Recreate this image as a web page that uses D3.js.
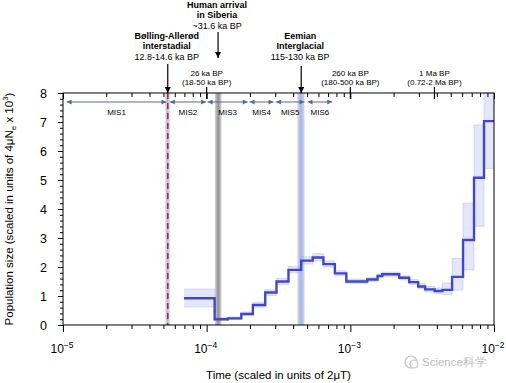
<!DOCTYPE html>
<html>
<head>
<meta charset="utf-8">
<script src="https://cdn.jsdelivr.net/npm/d3@7"></script>
<style>
  body { margin: 0; background: #fff; }
  svg { display: block; font-family: "Liberation Sans", Arial, sans-serif; }
  .axis path, .axis line { stroke: #000; stroke-width: 1; }
</style>
</head>
<body>
<div id="chart"></div>
<script>
(function () {
  "use strict";

  // Step breakpoints (time, scaled units of 2uT) and population sizes (x 10^3)
  const stepTimes  = [6.96e-5, 1.136e-4, 1.406e-4, 1.742e-4, 2.097e-4, 2.557e-4, 3.062e-4, 3.71e-4,
                      4.546e-4, 5.472e-4, 6.494e-4, 7.806e-4, 9.38e-4, 1.312e-3, 1.547e-3, 1.668e-3,
                      2.189e-3, 2.569e-3, 2.966e-3, 3.317e-3, 3.862e-3, 4.375e-3, 5.108e-3, 6.09e-3,
                      7.26e-3, 8.52e-3];
  const stepValues = [0.92, 0.20, 0.23, 0.38, 0.69, 1.12, 1.50, 1.90,
                      2.22, 2.33, 2.10, 1.78, 1.50, 1.57, 1.69, 1.75,
                      1.63, 1.48, 1.33, 1.23, 1.17, 1.21, 1.66, 2.93,
                      5.08, 7.03];
  // bootstrap spread (lower / upper)
  const bootLo = [0.62, 0.16, 0.19, 0.32, 0.61, 1.02, 1.40, 1.80,
                  2.10, 2.21, 2.00, 1.70, 1.43, 1.50, 1.62, 1.68,
                  1.56, 1.40, 1.25, 1.14, 1.07, 1.05, 1.20, 1.90,
                  3.40, 5.40];
  const bootHi = [1.24, 0.25, 0.28, 0.45, 0.78, 1.22, 1.61, 2.02,
                  2.35, 2.46, 2.21, 1.87, 1.58, 1.64, 1.76, 1.82,
                  1.70, 1.57, 1.42, 1.33, 1.28, 1.45, 2.30, 4.20,
                  6.90, 8.00];
  const endTime = 1e-2;

  // Events
  const baTime = 5.36e-5, baBand = [5.14e-5, 5.55e-5];
  const humanTime = 1.2e-4, humanBand = [1.14e-4, 1.27e-4];
  const eemTime = 4.55e-4, eemBand = [4.28e-4, 4.8e-4];

  // Marine isotope stages
  const misNames = ["MIS1", "MIS2", "MIS3", "MIS4", "MIS5", "MIS6"];
  const misStart = [1.06e-5, 5.54e-5, 1.015e-4, 1.99e-4, 3.04e-4, 5.04e-4];
  const misEnd   = [5.25e-5, 9.9e-5, 1.93e-4, 2.92e-4, 4.79e-4, 7.48e-4];

  // Top time ticks
  const topTickTimes = [1e-4, 1e-3, 3.85e-3];
  const topTickLine1 = ["26 ka BP", "260 ka BP", "1 Ma BP"];
  const topTickLine2 = ["(18-50 ka BP)", "(180-500 ka BP)", "(0.72-2 Ma BP)"];

  const decades = [1e-5, 1e-4, 1e-3, 1e-2];
  const yTicks = [0, 1, 2, 3, 4, 5, 6, 7, 8];

  // Layout
  const W = 506, H = 383;
  const x0 = 63, x1 = 494, yTop = 93, yBot = 325;

  const x = d3.scaleLog().domain([1e-5, 1e-2]).range([x0, x1]);
  const y = d3.scaleLinear().domain([0, 8]).range([yBot, yTop]);

  const svg = d3.select("#chart").append("svg")
    .attr("width", W).attr("height", H);

  const defs = svg.append("defs");
  function bandGrad(id, edge, mid) {
    const gr = defs.append("linearGradient").attr("id", id)
      .attr("x1", "0%").attr("x2", "100%").attr("y1", "0%").attr("y2", "0%");
    gr.append("stop").attr("offset", "0%").attr("stop-color", edge);
    gr.append("stop").attr("offset", "50%").attr("stop-color", mid);
    gr.append("stop").attr("offset", "100%").attr("stop-color", edge);
  }
  bandGrad("gGray", "#d8d8d8", "#8f8f8f");
  bandGrad("gBlue", "#d2d8f0", "#a9b5e4");
  bandGrad("gBA", "#dfe2ef", "#b9bfd8");

  const arrow = (id, color, w, h) => defs.append("marker").attr("id", id)
    .attr("viewBox", "0 0 10 10").attr("refX", 10).attr("refY", 5)
    .attr("markerWidth", w).attr("markerHeight", h).attr("orient", "auto-start-reverse")
    .attr("markerUnits", "userSpaceOnUse")
    .append("path").attr("d", "M0,0L10,5L0,10z").attr("fill", color);
  arrow("arrBlack", "#000", 6, 6);
  arrow("arrMis", "#5b6b96", 6, 5);

  // Bands
  const bands = [[baBand, "url(#gBA)"], [humanBand, "url(#gGray)"], [eemBand, "url(#gBlue)"]];
  svg.append("g").selectAll("rect").data(bands).join("rect")
    .attr("x", d => x(d[0][0]))
    .attr("width", d => x(d[0][1]) - x(d[0][0]))
    .attr("y", yTop).attr("height", yBot - yTop)
    .attr("fill", d => d[1]);

  // red dashed line
  svg.append("line")
    .attr("x1", x(baTime)).attr("x2", x(baTime))
    .attr("y1", yTop).attr("y2", yBot)
    .attr("stroke", "#b8213c").attr("stroke-width", 1.6)
    .attr("stroke-dasharray", "6,4");

  // Bootstrap envelope + main step line
  const pts = stepTimes.map((t, i) => ({ t, v: stepValues[i], lo: bootLo[i], hi: bootHi[i] }));
  pts.push({ t: endTime, v: stepValues[stepValues.length - 1],
             lo: bootLo[bootLo.length - 1], hi: bootHi[bootHi.length - 1] });

  svg.append("path").datum(pts)
    .attr("d", d3.area().curve(d3.curveStepAfter)
      .x(d => x(d.t)).y0(d => y(d.lo)).y1(d => y(d.hi)))
    .attr("fill", "#b3bbf3").attr("opacity", 0.35);

  ["lo", "hi"].forEach(k => {
    svg.append("path").datum(pts)
      .attr("d", d3.line().curve(d3.curveStepAfter).x(d => x(d.t)).y(d => y(d[k])))
      .attr("fill", "none").attr("stroke", "#8c97ee").attr("stroke-width", 0.6).attr("opacity", 0.5);
  });

  svg.append("path").datum(pts)
    .attr("d", d3.line().curve(d3.curveStepAfter).x(d => x(d.t)).y(d => y(d.v)))
    .attr("fill", "none").attr("stroke", "#4047c8").attr("stroke-width", 2.4);

  // Frame
  svg.append("rect").attr("x", x0).attr("y", yTop)
    .attr("width", x1 - x0).attr("height", yBot - yTop)
    .attr("fill", "none").attr("stroke", "#000");

  // Log ticks
  const logTicks = x.ticks();

  // Bottom axis
  const gx = svg.append("g").attr("class", "axis")
    .attr("transform", `translate(0,${yBot})`)
    .call(d3.axisBottom(x).tickValues(logTicks).tickFormat("").tickSizeOuter(0));
  gx.selectAll(".tick line").attr("y2", d => decades.includes(d) ? 7 : 4);
  gx.selectAll(".tick").filter(d => decades.includes(d)).each(function (d) {
    const t = d3.select(this).append("text")
      .attr("x", -13).attr("y", 28).attr("text-anchor", "start")
      .attr("fill", "#000").attr("font-size", 12);
    t.append("tspan").text("10");
    t.append("tspan").attr("dy", -5).attr("font-size", 8.5).text("\u2212" + Math.round(-Math.log10(d)));
  });

  // Top axis (minor ticks inward)
  const gt = svg.append("g").attr("class", "axis")
    .attr("transform", `translate(0,${yTop})`)
    .call(d3.axisTop(x).tickValues(logTicks).tickFormat("").tickSizeOuter(0));
  gt.selectAll(".tick line").attr("y2", d => decades.includes(d) ? 6 : 4);

  // Labeled top ticks
  const gtl = svg.append("g").selectAll("g").data(topTickTimes).join("g")
    .attr("transform", d => `translate(${x(d)},${yTop})`);
  gtl.append("line").attr("y1", -6).attr("y2", 6).attr("stroke", "#000").attr("stroke-width", 1.2);
  gtl.append("text").attr("y", -17).attr("text-anchor", "middle").attr("font-size", 8)
    .text((d, i) => topTickLine1[i]);
  gtl.append("text").attr("y", -8).attr("text-anchor", "middle").attr("font-size", 8)
    .text((d, i) => topTickLine2[i]);

  // Y axis
  const gy = svg.append("g").attr("class", "axis")
    .attr("transform", `translate(${x0},0)`)
    .call(d3.axisLeft(y).tickValues(yTicks).tickSize(5).tickPadding(11).tickSizeOuter(0));
  gy.selectAll("text").attr("font-size", 12.5).attr("font-family", "Liberation Sans, Arial, sans-serif");
  svg.append("g").attr("class", "axis")
    .attr("transform", `translate(${x0},0)`)
    .call(d3.axisLeft(y).tickValues(d3.range(0, 8.01, 0.2)).tickSize(3).tickFormat("").tickSizeOuter(0));
  svg.selectAll(".axis .domain").remove();

  // MIS arrows
  const misY = 102;
  const gm = svg.append("g");
  misNames.forEach((name, i) => {
    gm.append("line")
      .attr("x1", x(misStart[i])).attr("x2", x(misEnd[i]))
      .attr("y1", misY).attr("y2", misY)
      .attr("stroke", "#5b6b96").attr("stroke-width", 1)
      .attr("marker-start", "url(#arrMis)").attr("marker-end", "url(#arrMis)");
    gm.append("text")
      .attr("x", (x(misStart[i]) + x(misEnd[i])) / 2).attr("y", misY + 12.5)
      .attr("text-anchor", "middle").attr("font-size", 8).text(name);
  });

  // Event annotations
  const events = [
    { t: baTime, lines: ["Bølling-Allerød", "interstadial", "12.8-14.6 ka BP"], y0: 39, a0: 64, a1: yTop },
    { t: humanTime, lines: ["Human arrival", "in Siberia", "~31.6 ka BP"], y0: 8, a0: 32, a1: 58 },
    { t: eemTime, lines: ["Eemian", "Interglacial", "115-130 ka BP"], y0: 39, a0: 66, a1: yTop }
  ];
  events.forEach(ev => {
    const cx = x(ev.t);
    ev.lines.forEach((s, i) => {
      svg.append("text").attr("x", cx - 1).attr("y", ev.y0 + i * 10.3)
        .attr("text-anchor", "middle").attr("font-size", 9)
        .attr("font-weight", i < 2 ? "bold" : "normal").text(s);
    });
    svg.append("line").attr("x1", cx).attr("x2", cx)
      .attr("y1", ev.a0).attr("y2", ev.a1)
      .attr("stroke", "#000").attr("stroke-width", 1.2)
      .attr("marker-end", "url(#arrBlack)");
  });

  // Axis titles
  const xt = svg.append("text").attr("x", (x0 + x1) / 2).attr("y", 379)
    .attr("text-anchor", "middle").attr("font-size", 11.5);
  xt.append("tspan").text("Time (scaled in units of 2\u03bcT)");

  const yt = svg.append("text")
    .attr("transform", `translate(13,${(yTop + yBot) / 2}) rotate(-90)`)
    .attr("text-anchor", "middle").attr("font-size", 11.5);
  yt.append("tspan").text("Population size (scaled in units of 4\u03bcN");
  yt.append("tspan").attr("dy", 3).attr("font-size", 8).text("e");
  yt.append("tspan").attr("dy", -3).text(" x 10");
  yt.append("tspan").attr("dy", -5).attr("font-size", 8).text("3");
  yt.append("tspan").attr("dy", 5).text(")");

  // Watermark
  const wm = svg.append("g").attr("transform", "translate(411,362)");
  wm.append("circle").attr("r", 6).attr("fill", "none").attr("stroke", "#c4c4c4").attr("stroke-width", 1.2);
  wm.append("circle").attr("cx", 3).attr("cy", 2).attr("r", 4).attr("fill", "#fff").attr("stroke", "#c4c4c4").attr("stroke-width", 1.2);
  wm.append("text").attr("x", 11).attr("y", 4).attr("font-size", 11.5)
    .attr("fill", "#bdbdbd").text("Science科学");
})();
</script>
</body>
</html>
